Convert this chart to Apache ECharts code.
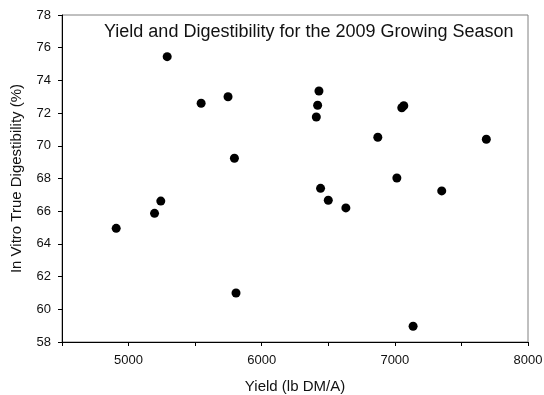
<!DOCTYPE html>
<html>
<head>
<meta charset="utf-8">
<script src="https://cdn.jsdelivr.net/npm/echarts@6/dist/echarts.min.js"></script>
<style>
  html, body { margin: 0; padding: 0; background: #fff; }
  #chart { width: 544px; height: 395px; }
</style>
</head>
<body>
<div id="chart"></div>
<script>
// yield (lb DM/A) and in vitro true digestibility (%)
const yieldValues = [5290, 5545, 5747, 6430, 6420, 6410, 5795, 6872, 7052, 7067, 7687,
  7015, 7352, 7137, 5242, 5195, 4907, 6442, 6500, 6632, 5807];
const digestValues = [75.45, 72.6, 73.0, 73.35, 72.48, 71.76, 69.24, 70.52, 72.33, 72.45, 70.4,
  68.03, 67.24, 58.96, 66.62, 65.87, 64.95, 67.4, 66.67, 66.2, 61.0];

const xMin = 4500, xMax = 8000, xStep = 500;
const yMin = 58, yMax = 78, yStep = 2;

const chartTitle = "Yield and Digestibility for the 2009 Growing Season";
const xTitle = "Yield (lb DM/A)";
const yTitle = "In Vitro True Digestibility (%)";

const font = "Arial, 'Liberation Sans', sans-serif";
const points = yieldValues.map((x, i) => [x, digestValues[i]]);

const chart = echarts.init(document.getElementById("chart"));

chart.setOption({
  animation: false,
  title: {
    text: chartTitle,
    left: 104,
    top: 23,
    padding: 0,
    textStyle: { fontFamily: font, fontSize: 18, fontWeight: "normal", color: "#111" }
  },
  grid: {
    left: 62, right: 16, top: 15, bottom: 53,
    outerBoundsMode: "none",
    containLabel: false,
    show: true,
    borderColor: "#808080",
    borderWidth: 1
  },
  xAxis: {
    type: "value",
    min: xMin, max: xMax, interval: xStep,
    name: xTitle,
    nameLocation: "middle",
    nameGap: 37,
    nameTextStyle: { fontFamily: font, fontSize: 15, color: "#111" },
    splitLine: { show: false },
    axisLine: { lineStyle: { color: "#000", width: 1 } },
    axisTick: { inside: false, length: 4, lineStyle: { color: "#000" } },
    axisLabel: {
      fontFamily: font, fontSize: 13, color: "#111", margin: 12,
      formatter: v => (v % 1000 === 0 && v !== xMin ? String(v) : "")
    }
  },
  yAxis: {
    type: "value",
    min: yMin, max: yMax, interval: yStep,
    name: yTitle,
    nameLocation: "middle",
    nameGap: 38,
    nameTextStyle: { fontFamily: font, fontSize: 15, color: "#111" },
    splitLine: { show: false },
    axisLine: { show: true, lineStyle: { color: "#000", width: 1 } },
    axisTick: { show: true, inside: false, length: 4, lineStyle: { color: "#000" } },
    axisLabel: { fontFamily: font, fontSize: 13, color: "#111", margin: 11 }
  },
  series: [{
    type: "scatter",
    data: points,
    symbol: "circle",
    symbolSize: 9,
    itemStyle: { color: "#000", opacity: 1 }
  }]
});
</script>
</body>
</html>
